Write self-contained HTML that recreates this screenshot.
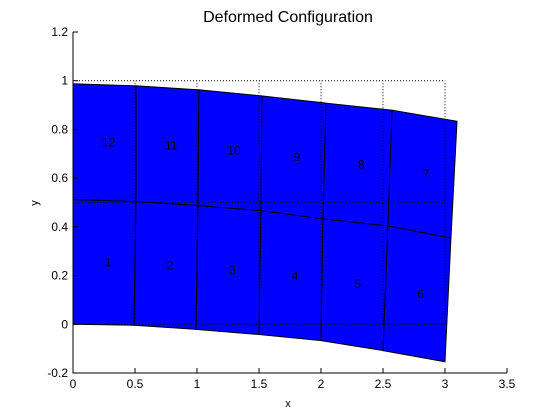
<!DOCTYPE html>
<html><head><meta charset="utf-8"><style>
body{margin:0;background:#fff;}
svg{display:block;font-family:"Liberation Sans",sans-serif;}
</style></head><body>
<svg id="chart" width="560" height="420" viewBox="0 0 560 420">
<rect x="0" y="0" width="560" height="420" fill="#fff"/>
<text x="288" y="22" text-anchor="middle" font-size="16">Deformed Configuration</text>
<text x="288" y="407" text-anchor="middle" font-size="11">x</text>
<text x="38" y="203" text-anchor="middle" font-size="11" transform="rotate(-90 38 203)">y</text>
<g id="mesh"></g>
<g id="axes"></g>
</svg>
<script>
const xTicks=[0,0.5,1,1.5,2,2.5,3,3.5];
const yTicks=[-0.2,0,0.2,0.4,0.6,0.8,1,1.2];
const undefX=[0,0.5,1,1.5,2,2.5,3];
const undefY=[0,0.5,1];
const botX=[0,0.492,0.992,1.5,2.0,2.5,3.0];
const botY=[0,-0.004,-0.021,-0.042,-0.067,-0.108,-0.154];
const midX=[0,0.508,1.008,1.516,2.016,2.54,3.048];
const midY=[0.5125,0.504,0.4875,0.4667,0.433,0.404,0.3542];
const topX=[0,0.508,1.016,1.524,2.04,2.573,3.097];
const topY=[0.9875,0.979,0.9625,0.9375,0.908,0.879,0.8333];
const NS="http://www.w3.org/2000/svg";
const X0=73,X1=507,Y0=373,Y1=32;
const sx=v=>X0+(v-0)/(3.5-0)*(X1-X0);
const sy=v=>Y0-(v+0.2)/(1.4)*(Y0-Y1);
function mk(t,a,p){const e=document.createElementNS(NS,t);for(const k in a)e.setAttribute(k,a[k]);p.appendChild(e);return e;}
const mesh=document.getElementById('mesh');
const rows=[[botX,botY],[midX,midY],[topX,topY]];
// elements
for(let r=0;r<2;r++){
 for(let c=0;c<6;c++){
  const A=rows[r],B=rows[r+1];
  const pts=[[A[0][c],A[1][c]],[A[0][c+1],A[1][c+1]],[B[0][c+1],B[1][c+1]],[B[0][c],B[1][c]]];
  const p=mk('polygon',{points:pts.map(q=>sx(q[0])+','+sy(q[1])).join(' '),fill:'#0000ff',stroke:'#000','stroke-width':1},mesh);
  
  
 }
}
// undeformed dotted mesh
undefY.forEach(y=>{
 const l=mk('line',{x1:sx(0),x2:sx(3),y1:sy(y),y2:sy(y),stroke:'#000','stroke-width':1,'stroke-dasharray':'1 2'},mesh);
 
 
});
undefX.forEach(x=>{
 const l=mk('line',{x1:sx(x),x2:sx(x),y1:sy(0),y2:sy(1),stroke:'#000','stroke-width':1,'stroke-dasharray':'1 2'},mesh);
 
 
});
// labels
for(let r=0;r<2;r++){
 for(let c=0;c<6;c++){
  const A=rows[r],B=rows[r+1];
  const cx=(sx(A[0][c])+sx(A[0][c+1])+sx(B[0][c])+sx(B[0][c+1]))/4;
  const cy=(sy(A[1][c])+sy(A[1][c+1])+sy(B[1][c])+sy(B[1][c+1]))/4;
  const t=mk('text',{x:cx+4,y:cy+4,'text-anchor':'middle','font-size':12,fill:'#000'},mesh);
  t.textContent=String(r===0?c+1:12-c);
  
  
 }
}
// axes
const ax=document.getElementById('axes');
const box=mk('path',{d:`M${X0},${Y1}V${Y0}H${X1}`,fill:'none',stroke:'#000','stroke-width':1},ax);


xTicks.forEach(v=>{
 mk('line',{x1:sx(v),x2:sx(v),y1:Y0,y2:Y0-5,stroke:'#000'},ax);
 const t=mk('text',{x:sx(v),y:Y0+15,'text-anchor':'middle','font-size':12},ax);
 t.textContent=String(v);
 
 
});
yTicks.forEach(v=>{
 mk('line',{x1:X0,x2:X0+5,y1:sy(v),y2:sy(v),stroke:'#000'},ax);
 const t=mk('text',{x:X0-5,y:sy(v)+4,'text-anchor':'end','font-size':12},ax);
 t.textContent=String(v);
 
 
});
</script>
</body></html>
